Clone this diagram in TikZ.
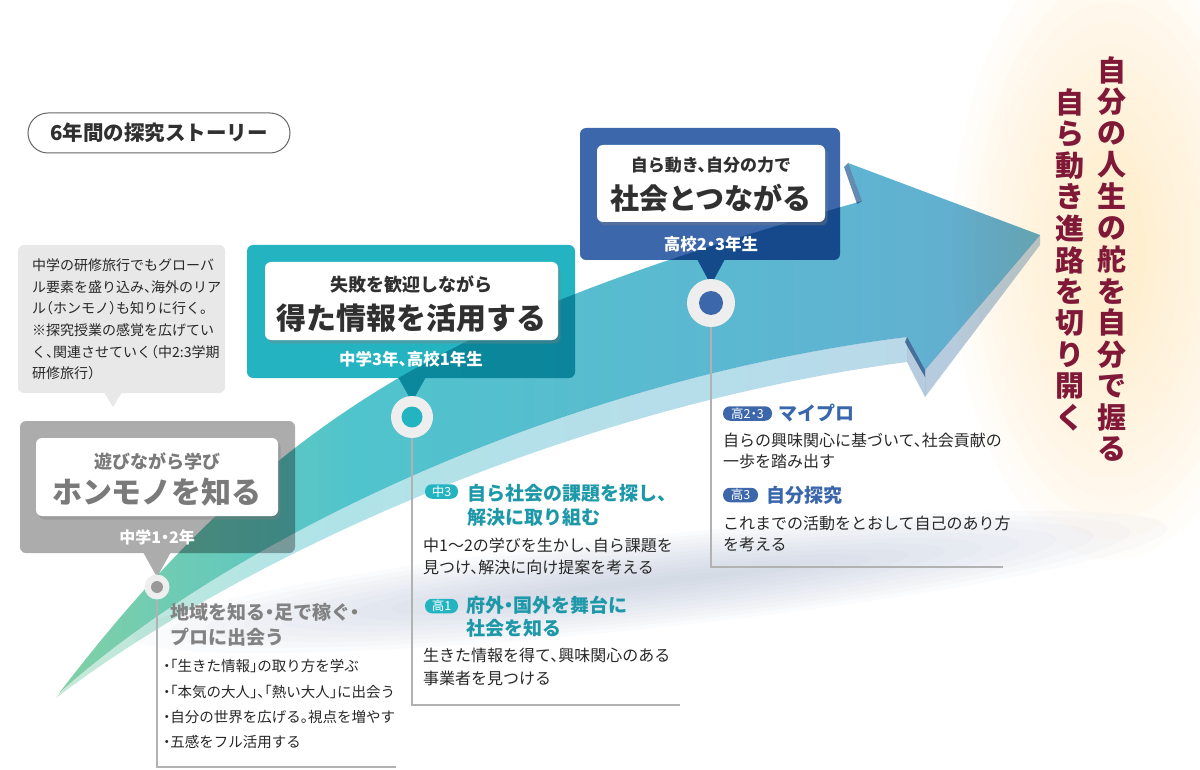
\documentclass[tikz,border=0pt]{standalone}
\usepackage{fontspec}
\setmainfont{Noto Sans CJK JP}[RawFeature=+halt]
\usetikzlibrary{shadows}
\definecolor{grayboxc}{RGB}{172,172,172}
\definecolor{bubblec}{RGB}{232,232,232}
\definecolor{tealc}{RGB}{36,180,193}
\definecolor{bluec}{RGB}{60,103,170}
\definecolor{ringc}{RGB}{238,238,238}
\definecolor{linec}{RGB}{178,178,178}
\definecolor{bodyc}{RGB}{40,40,40}
\definecolor{titlec}{RGB}{48,48,48}
\definecolor{graytxt}{RGB}{122,122,122}
\definecolor{grayhead}{RGB}{130,130,130}
\definecolor{tealtxt}{RGB}{28,152,168}
\definecolor{bluetxt}{RGB}{58,102,172}
\definecolor{redtxt}{RGB}{128,24,56}
\definecolor{glowc}{RGB}{255,232,180}
\definecolor{swc}{RGB}{172,186,210}
\definecolor{bA}{RGB}{196,228,138}
\definecolor{bB}{RGB}{145,212,152}
\definecolor{bC}{RGB}{80,196,204}
\definecolor{bD}{RGB}{95,180,210}
\definecolor{bE}{RGB}{115,150,198}
\definecolor{tipface}{RGB}{182,203,222}
\definecolor{darkface}{RGB}{100,140,178}
\pgfdeclarehorizontalshading{bandsh}{100bp}{color(0bp)=(bA); color(20bp)=(bB); color(40bp)=(bC); color(65bp)=(bD); color(100bp)=(bE)}
\newcommand{\fsz}[1]{\fontsize{#1}{#1}\selectfont}
\tikzset{
  txt/.style={inner sep=0pt, anchor=west, text=bodyc},
  ctr/.style={inner sep=0pt},
  whitebox/.style={fill=white, rounded corners=6pt, drop shadow={shadow xshift=2.5pt, shadow yshift=-3.5pt, opacity=0.35}},
  badge/.style={inner xsep=3pt, inner ysep=0pt, minimum height=14.5pt, rounded corners=7pt, text=white, font=\fsz{12.5}},
  vt/.style={inner sep=0pt, text=redtxt, font=\bfseries\fsz{29}},
  conn/.style={draw=linec, line width=1.1pt},
}
\begin{document}
\begin{tikzpicture}[x=1pt,y=-1pt]
\useasboundingbox (0,0) rectangle (1200,770);
\fill[white] (0,0) rectangle (1200,770);
% soft backgrounds
\foreach \k in {0,...,13}
  \fill[glowc, fill opacity=0.065] (1112,250) ellipse [x radius={160*(1-\k/14)}, y radius={310*(1-\k/15)}];
\begin{scope}[rotate around={6:(650,582)}]
\foreach \k in {0,...,11}
  \fill[swc, fill opacity=0.05] (650,582) ellipse [x radius={520*(1-\k/14)}, y radius={46*(1-\k/12)}];
\end{scope}

% label pill
\node[draw=black!60, line width=1pt, rounded corners=20pt, minimum width=262pt, minimum height=40pt, inner sep=0pt, text=titlec, font=\bfseries\fsz{20.5}] (story) at (159,133) {6年間の探究ストーリー};

% gray bubble
\fill[bubblec, rounded corners=6pt] (18,245) rectangle (225,393);
\fill[bubblec] (104,392) -- (122,392) -- (113,407) -- cycle;
\node[txt, font=\fsz{14}] (b1) at (32,265) {中学の研修旅行でもグローバ};
\node[txt, font=\fsz{14}] (b2) at (32,287) {ル要素を盛り込み、海外のリア};
\node[txt, font=\fsz{14}] (b3) at (32,308) {ル（ホンモノ）も知りに行く。};
\node[txt, font=\fsz{14}] (b4) at (32,330) {※探究授業の感覚を広げてい};
\node[txt, font=\fsz{14}] (b5) at (32,352) {く、関連させていく（中2:3学期};
\node[txt, font=\fsz{14}] (b6) at (32,373) {研修旅行）};

% colored boxes
\fill[grayboxc, rounded corners=6pt] (20,421) rectangle (295,553);
\fill[grayboxc] (143,552) -- (171,552) -- (157,577) -- cycle;
\fill[tealc, rounded corners=6pt] (247,245) rectangle (575,378);
\fill[tealc] (398,377) -- (426,377) -- (412,402) -- cycle;
\fill[bluec, rounded corners=6pt] (580,128) rectangle (840,260);
\fill[bluec] (697,259) -- (725,259) -- (711,285) -- cycle;

% the big arrow
\begin{scope}[blend mode=multiply]
\shade[shading=bandsh, opacity=0.45] (60,692) .. controls (230,540) and (560,380) .. (907,337) -- (907,362) .. controls (560,408) and (230,565) .. (56,698) -- cycle;
\fill[tipface] (907,337) -- (925,370) -- (925,397) -- (907,362) -- cycle;
\fill[tipface] (1040,235) -- (925,370) -- (925,397) -- (1040,245) -- cycle;
\shade[shading=bandsh] (60,692) .. controls (290,392) and (480,310) .. (862,201) -- (848,163) -- (1040,235) -- (925,370) -- (907,337) .. controls (560,380) and (230,540) .. (60,692) -- cycle;
\fill[darkface] (907,337) -- (925,370) -- (925,377) -- (905,342) -- cycle;
\fill[darkface] (848,163) -- (862,201) -- (857,204) -- (844,167) -- cycle;
\end{scope}

% white boxes
\fill[whitebox] (36,438) rectangle (278,516);
\node[ctr, text=graytxt, font=\bfseries\fsz{18}] (s1) at (157,461) {遊びながら学び};
\node[ctr, text=graytxt, font=\bfseries\fsz{30}] (t1) at (157,492) {ホンモノを知る};
\node[ctr, text=white, font=\bfseries\fsz{16}] (y1) at (157,537) {中学1・2年};

\fill[whitebox] (265,262) rectangle (558,340);
\node[ctr, text=titlec, font=\bfseries\fsz{18}] (s2) at (411,284) {失敗を歓迎しながら};
\node[ctr, text=titlec, font=\bfseries\fsz{30}] (t2) at (411,318) {得た情報を活用する};
\node[ctr, text=white, font=\bfseries\fsz{16.5}] (y2) at (411,359) {中学3年、高校1年生};

\fill[whitebox] (597,145) rectangle (825,222);
\node[ctr, text=titlec, font=\bfseries\fsz{17}] (s3) at (711,165) {自ら動き、自分の力で};
\node[ctr, text=titlec, font=\bfseries\fsz{29}] (t3) at (711,198) {社会とつながる};
\node[ctr, text=white, font=\bfseries\fsz{16.5}] (y3) at (711,244) {高校2・3年生};

% markers
\fill[ringc] (157,587) circle [radius=12.5];
\fill[black!40] (157,587) circle [radius=6];
\fill[ringc] (412,417) circle [radius=21];
\fill[tealc] (412,417) circle [radius=10.5];
\fill[ringc] (711,303) circle [radius=24];
\fill[bluec] (711,303) circle [radius=12];
\coordinate (m1) at (157,600);
\coordinate (m1b) at (157,767);
\coordinate (m1e) at (396,767);
\coordinate (m2) at (412,438);
\coordinate (m2b) at (412,705);
\coordinate (m2e) at (680,705);
\coordinate (m3) at (711,327);
\coordinate (m3b) at (711,567);
\coordinate (m3e) at (1003,567);
\draw[conn] (m1) -- (m1b) -- (m1e);
\draw[conn] (m2) -- (m2b) -- (m2e);
\draw[conn] (m3) -- (m3b) -- (m3e);

% column 1
\node[txt, text=grayhead, font=\bfseries\fsz{19}] (h11) at (170,612) {地域を知る・足で稼ぐ・};
\node[txt, text=grayhead, font=\bfseries\fsz{19}] (h12) at (170,637) {プロに出会う};
\node[txt, font=\fsz{14.5}] (p11) at (163,666) {・「生きた情報」の取り方を学ぶ};
\node[txt, font=\fsz{14.5}] (p12) at (163,692) {・「本気の大人」、「熱い大人」に出会う};
\node[txt, font=\fsz{14.5}] (p13) at (163,717) {・自分の世界を広げる。視点を増やす};
\node[txt, font=\fsz{14.5}] (p14) at (163,742) {・五感をフル活用する};

% column 2
\node[badge, fill=tealc, minimum width=33pt] (bg21) at (441.5,491.5) {中3};
\node[txt, text=tealtxt, font=\bfseries\fsz{19}] (h21) at (467,493) {自ら社会の課題を探し、};
\node[txt, text=tealtxt, font=\bfseries\fsz{19}] (h22) at (467,517) {解決に取り組む};
\node[txt, font=\fsz{16}] (p21) at (423,545) {中1〜2の学びを生かし、自ら課題を};
\node[txt, font=\fsz{16}] (p22) at (423,567) {見つけ、解決に向け提案を考える};
\node[badge, fill=tealc, minimum width=33pt] (bg22) at (441.5,606) {高1};
\node[txt, text=tealtxt, font=\bfseries\fsz{19}] (h23) at (466,605) {府外・国外を舞台に};
\node[txt, text=tealtxt, font=\bfseries\fsz{19}] (h24) at (466,628) {社会を知る};
\node[txt, font=\fsz{16}] (p23) at (423,655) {生きた情報を得て、興味関心のある};
\node[txt, font=\fsz{16}] (p24) at (423,678) {事業者を見つける};

% column 3
\node[badge, fill=bluec, minimum width=49pt] (bg31) at (747.5,413.5) {高2・3};
\node[txt, text=bluetxt, font=\bfseries\fsz{19}] (h31) at (778,413) {マイプロ};
\node[txt, font=\fsz{16}] (p31) at (723,440) {自らの興味関心に基づいて、社会貢献の};
\node[txt, font=\fsz{16}] (p32) at (723,461) {一歩を踏み出す};
\node[badge, fill=bluec, minimum width=35pt] (bg32) at (740.5,495) {高3};
\node[txt, text=bluetxt, font=\bfseries\fsz{19}] (h32) at (766,495) {自分探究};
\node[txt, font=\fsz{16}] (p33) at (723,523) {これまでの活動をとおして自己のあり方};
\node[txt, font=\fsz{16}] (p34) at (723,544) {を考える};

% vertical text
\foreach \c [count=\i from 0] in {自,分,の,人,生,の,舵,を,自,分,で,握,る}
  \node[vt] (va\i) at (1112,{70+\i*31.6}) {\c};
\foreach \c [count=\i from 0] in {自,ら,動,き,進,路,を,切,り,開,く}
  \node[vt] (vb\i) at (1070,{102+\i*31.6}) {\c};
\end{tikzpicture}
\end{document}
